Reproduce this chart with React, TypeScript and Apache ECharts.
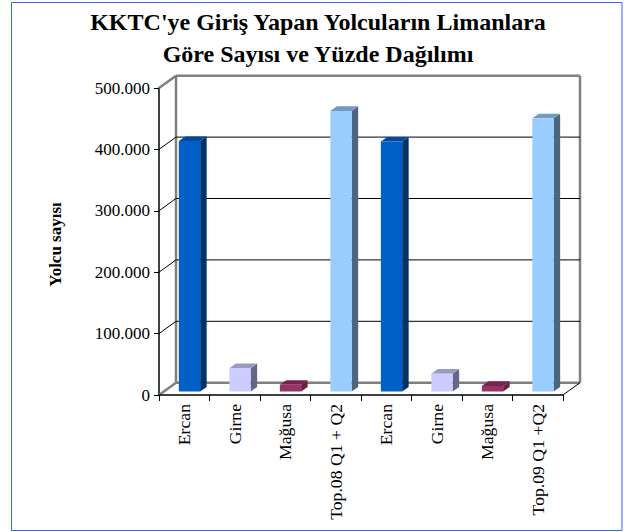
import React, { useEffect, useRef } from "react";
import * as echarts from "echarts";

const titleLines = ["KKTC'ye Giriş Yapan Yolcuların Limanlara", "Göre Sayısı ve Yüzde Dağılımı"];
const yAxisTitle = "Yolcu sayısı";
const categories = ["Ercan", "Girne", "Mağusa", "Top.08 Q1 + Q2", "Ercan", "Girne", "Mağusa", "Top.09 Q1 +Q2"];
const passengers = [408000, 38000, 11000, 457000, 407000, 29000, 9000, 445000];
const valueTicks = [0, 100000, 200000, 300000, 400000, 500000];

const faceColors = [
  ["#0060c8", "#003366", "#004a99"],
  ["#ccccff", "#666688", "#9a9abf"],
  ["#993366", "#66223f", "#73264d"],
  ["#99ccff", "#4d6680", "#7399bf"],
];
const colorOfCategory = [0, 1, 2, 3, 0, 1, 2, 3];

const DEPTH_X = 17;
const DEPTH_Y = -12.3;
const FONT = "'Liberation Serif', serif";

function renderWall(params: any, api: any) {
  const v = api.value(0);
  const { x, width } = params.coordSys;
  const y = api.coord([0, v])[1];
  const edge = v === 0 || v === 500000;
  const color = edge ? "#808080" : "#000000";
  const lw = edge ? 2.5 : 1;
  const line = (x1: number, y1: number, x2: number, y2: number, c = color, w = lw) => ({
    type: "line",
    shape: { x1, y1, x2, y2 },
    style: { stroke: c, lineWidth: w },
  });
  const children: any[] = [
    line(x, y, x + DEPTH_X, y + DEPTH_Y),
    line(x + DEPTH_X, y + DEPTH_Y, x + width + DEPTH_X, y + DEPTH_Y),
  ];
  if (v === 0) {
    const top = api.coord([0, 500000])[1];
    children.push(line(x + DEPTH_X, y + DEPTH_Y, x + DEPTH_X, top + DEPTH_Y));
    children.push(line(x + width + DEPTH_X, y + DEPTH_Y, x + width + DEPTH_X, top + DEPTH_Y));
    children.push(line(x + width, y, x + width + DEPTH_X, y + DEPTH_Y, "#000000", 1));
  }
  return { type: "group", children };
}

function renderBar(params: any, api: any) {
  const i = api.value(0);
  const c = api.coord([i, api.value(1)]);
  const base = api.coord([i, 0]);
  const band = api.size([1, 0])[0];
  const w = band * 0.422;
  const dx = 6.5;
  const dy = -4.6;
  const ox = 5.25;
  const oy = -3.5;
  const l = c[0] - w / 2 + ox;
  const r = l + w;
  const t = c[1] + oy;
  const b = base[1] + oy;
  const [front, side, top] = faceColors[colorOfCategory[i]];
  return {
    type: "group",
    children: [
      { type: "polygon", shape: { points: [[r, t], [r + dx, t + dy], [r + dx, b + dy], [r, b]] }, style: { fill: side } },
      { type: "polygon", shape: { points: [[l, t], [l + dx, t + dy], [r + dx, t + dy], [r, t]] }, style: { fill: top } },
      { type: "rect", shape: { x: l, y: t, width: w, height: b - t }, style: { fill: front } },
    ],
  };
}

export default function App() {
  const ref = useRef<HTMLDivElement>(null);
  useEffect(() => {
    document.body.style.margin = "0";
    const chart = echarts.init(ref.current!, null, { renderer: "svg" });
    chart.setOption({
      animation: false,
      backgroundColor: "#ffffff",
      title: {
        text: titleLines.join("\n"),
        left: 313,
        top: 1,
        textAlign: "center",
        textStyle: { fontFamily: FONT, fontWeight: "bold", fontSize: 24, lineHeight: 32, color: "#000" },
      },
      grid: { left: 159, right: 67, top: 88, bottom: 137, containLabel: false },
      xAxis: {
        type: "category",
        data: categories,
        axisLine: { onZero: false, lineStyle: { color: "#000", width: 1.5 } },
        axisTick: { show: true, length: 6, lineStyle: { color: "#000" } },
        axisLabel: { rotate: 90, margin: 9, color: "#000", fontFamily: FONT, fontSize: 17.7, interval: 0 },
        z: 5,
      },
      yAxis: {
        type: "value",
        min: 0,
        max: 500000,
        interval: 100000,
        name: yAxisTitle,
        nameLocation: "middle",
        nameGap: 95,
        nameRotate: 90,
        nameTextStyle: { fontFamily: FONT, fontWeight: "bold", fontSize: 17, color: "#000", padding: [0, 6, 0, 0] },
        axisLine: { show: true, lineStyle: { color: "#404040", width: 2 } },
        axisTick: { show: true, length: 5, lineStyle: { color: "#000" } },
        axisLabel: {
          margin: 9,
          color: "#000",
          fontFamily: FONT,
          fontSize: 17,
          formatter: (v: number) => (v === 0 ? "0" : `${v / 1000}.000`),
        },
        splitLine: { show: false },
      },
      series: [
        {
          type: "custom",
          clip: false,
          z: 1,
          silent: true,
          renderItem: renderWall,
          data: valueTicks.map((v) => [v]),
          encode: { y: 0 },
        },
        {
          type: "custom",
          clip: false,
          z: 3,
          silent: true,
          renderItem: renderBar,
          data: passengers.map((v, i) => [i, v]),
          encode: { x: 0, y: 1 },
        },
      ],
      graphic: [
        {
          type: "rect",
          shape: { x: 11.5, y: 2.5, width: 610.5, height: 528 },
          style: { fill: "none", stroke: "#3366ff", lineWidth: 1 },
          z: 10,
        },
      ],
    });
    return () => chart.dispose();
  }, []);
  return <div ref={ref} style={{ position: "fixed", left: 0, top: 0, width: 630, height: 532 }} />;
}
